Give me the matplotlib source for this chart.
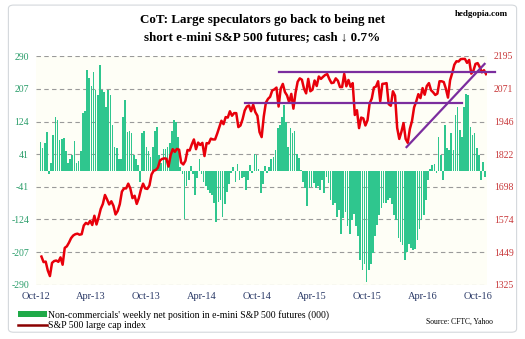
import matplotlib
matplotlib.use('Agg')
import matplotlib.pyplot as plt
import matplotlib.dates as mdates
from matplotlib.patches import Patch, FancyBboxPatch
from matplotlib.lines import Line2D
import pandas as pd

plt.rcParams['font.family'] = ['Liberation Serif', 'DejaVu Serif']

# weekly net position of non-commercials, e-mini S&P 500 futures (000)
net_position = [
    72, 56, 69, 98, -10, 18, 90, 135, 128, 77, 80, 82, 50, 20, 28, 38, 75, 20, 25, 50,
    145, 150, 255, 235, 215, 250, 205, 190, 268, 205, 200, 160, 205, 190, 115, 60, 58, 30, 30, 135,
    178, 98, 100, 95, 40, 28, 15, -28, 95, 100, 60, 50, 35, 60, 100, 110, 40, 20, 55, 55,
    60, 70, 100, 128, 122, 85, 10, -10, -122, -40, -25, 12, -10, -62, -20, 29, -10, -30, -40, -50,
    -58, -62, -83, -130, -80, -75, -117, -85, -55, -35, -7, 10, -28, 16, -24, -20, -16, -49, -24, 14,
    -7, 41, 38, 5, -58, -35, 12, -7, 8, 30, 35, 52, 107, 115, 136, 166, 124, 60, 107, 95,
    100, 43, 31, 2, -28, -45, -90, -45, -41, -32, -45, -40, -49, -24, -58, -16, -32, -75, -87, -83,
    -117, -100, -160, -120, -105, -140, -160, -125, -110, -140, -167, -227, -253, -236, -282, -253, -236, -210, -167, -138,
    -112, -96, -83, -82, -75, -70, -85, -112, -125, -172, -180, -189, -227, -206, -185, -197, -202, -200, -176, -147,
    -125, -112, -75, -24, 5, 14, 16, -6, 85, 39, -24, 115, 56, 52, 94, 52, 141, 162, 102, 85,
    162, 195, 191, 111, 90, 94, 56, 39, -24, 22, -16,
]

# S&P 500 weekly close
spx = [
    1433, 1412, 1414, 1380, 1359, 1409, 1416, 1418, 1413, 1430, 1402,
    1466, 1472, 1486, 1503, 1513, 1518, 1520, 1516, 1518, 1551, 1561, 1556, 1569,
    1553, 1588, 1555, 1582, 1614, 1633, 1667, 1650, 1631, 1643, 1626, 1593, 1606,
    1632, 1680, 1692, 1692, 1710, 1691, 1655, 1664, 1633, 1655, 1688, 1710, 1692,
    1690, 1703, 1745, 1759, 1762, 1771, 1798, 1804, 1806, 1805, 1775, 1818, 1841,
    1831, 1842, 1839, 1790, 1783, 1797, 1838, 1836, 1859, 1878, 1841, 1866, 1857,
    1865, 1815, 1864, 1863, 1881, 1878, 1878, 1900, 1924, 1949, 1936, 1963, 1961,
    1985, 1968, 1978, 1978, 1925, 1931, 1955, 1988, 2003, 2007, 1985, 2010, 1982,
    1968, 1906, 1887, 1965, 2018, 2032, 2040, 2064, 2068, 2075, 2003, 2071, 2089,
    2058, 2045, 2019, 2051, 1995, 2055, 2097, 2110, 2105, 2071, 2053, 2108, 2061,
    2067, 2102, 2081, 2117, 2108, 2116, 2123, 2126, 2107, 2092, 2094, 2110, 2101,
    2077, 2077, 2127, 2080, 2104, 2078, 2092, 1971, 1989, 1921, 1961, 1958, 1931,
    1951, 2015, 2033, 2075, 2079, 2099, 2023, 2089, 2090, 2092, 2012, 2006, 2061,
    2044, 1922, 1880, 1907, 1940, 1880, 1865, 1918, 1948, 2000, 2022, 2050, 2035,
    2073, 2048, 2081, 2092, 2065, 2057, 2047, 2052, 2099, 2099, 2096, 2071, 2037,
    2103, 2130, 2162, 2175, 2174, 2183, 2184, 2184, 2169, 2180, 2128, 2139, 2165,
    2168, 2153, 2133, 2141, 2126,
]

bar_dates = pd.date_range('2012-10-16', periods=len(net_position), freq='7D')
spx_dates = pd.date_range('2012-10-19', periods=len(spx), freq='7D')

left_ticks = [-290, -207, -124, -41, 41, 124, 207, 290]
right_ticks = [1325, 1449, 1574, 1698, 1822, 1946, 2071, 2195]
x_ticks = pd.to_datetime(['2012-10-01', '2013-04-01', '2013-10-01', '2014-04-01', '2014-10-01',
                          '2015-04-01', '2015-10-01', '2016-04-01', '2016-10-01'])

# trend lines drawn on the chart (start date, end date, start level, end level)
trend_lines = [
    ('2014-12-13', '2016-11-26', 2134, 2134),
    ('2014-08-24', '2016-08-09', 2017, 2017),
    ('2016-02-08', '2016-10-23', 1849, 2165),
]

fig = plt.figure(figsize=(5.25, 3.39), dpi=100)
fig.patch.set_facecolor('white')
fig.patches.append(FancyBboxPatch((0.016, 0.02), 0.968, 0.965, boxstyle='round,pad=0,rounding_size=0.01',
                                  transform=fig.transFigure, facecolor='none', edgecolor='#d4d8dc', lw=0.8))

ax = fig.add_axes([36 / 525, 1 - 285 / 339, (487 - 36) / 525, (285 - 56) / 339])
ax.set_facecolor('#fefef6')
ax.bar(bar_dates, net_position, width=5.5, color='#2fc68e', edgecolor='none', zorder=2)
ax.set_ylim(-290, 290)
ax.set_yticks(left_ticks)
ax.set_yticklabels([str(t) for t in left_ticks])
ax.yaxis.grid(True, linestyle=(0, (4, 3)), color='#9a9a9a', lw=0.8, zorder=0)
ax.set_axisbelow(True)

ax2 = ax.twinx()
ax2.plot(spx_dates, spx, color='#e8000b', lw=1.8, zorder=3)
for start, end, y0, y1 in trend_lines:
    ax2.plot(pd.to_datetime([start, end]), [y0, y1], color='#7b2d9e', lw=1.6, zorder=4, clip_on=False)
ax2.set_ylim(1325, 2195)
ax2.set_yticks(right_ticks)
ax2.set_yticklabels([str(t) for t in right_ticks])

ax.set_xlim(pd.Timestamp('2012-10-08'), pd.Timestamp('2016-10-31'))
ax.set_xticks(x_ticks)
ax.xaxis.set_major_formatter(mdates.DateFormatter('%b-%y'))

for a in (ax, ax2):
    for s in a.spines.values():
        s.set_visible(False)
ax.tick_params(axis='y', length=0, pad=5, labelsize=7, labelcolor='#2a9d6a')
ax2.tick_params(axis='y', length=0, pad=5, labelsize=7, labelcolor='#c8383a')
ax.tick_params(axis='x', length=0, pad=5, labelsize=7.5, labelcolor='#2b3a67')

fig.text(0.5, 1 - 20 / 339, 'CoT: Large speculators go back to being net', ha='center', va='center',
         fontsize=9.4, fontweight='bold')
fig.text(0.5, 1 - 37 / 339, 'short e-mini S&P 500 futures; cash \u2193 0.7%', ha='center', va='center',
         fontsize=9.4, fontweight='bold')
fig.text(508 / 525, 1 - 14 / 339, 'hedgopia.com', ha='right', va='center', fontsize=6.5, fontweight='bold')

handles = [Patch(facecolor='#1faa48', edgecolor='none'),
           Line2D([0], [0], color='#8b0000', lw=1.8)]
labels = ["Non-commercials' weekly net position in e-mini S&P 500 futures (000)",
          'S&P 500 large cap index']
fig.legend(handles, labels, loc='lower left', bbox_to_anchor=(16 / 525, 1 - 332 / 339), frameon=False,
           fontsize=7, handlelength=3.0, handleheight=0.6, handletextpad=0.1, labelspacing=0.1,
           borderpad=0.2, borderaxespad=0)
fig.text(493 / 525, 1 - 322 / 339, 'Source: CFTC, Yahoo', ha='right', va='center', fontsize=5.5)

fig.savefig('out.png', dpi=100)
plt.close(fig)
